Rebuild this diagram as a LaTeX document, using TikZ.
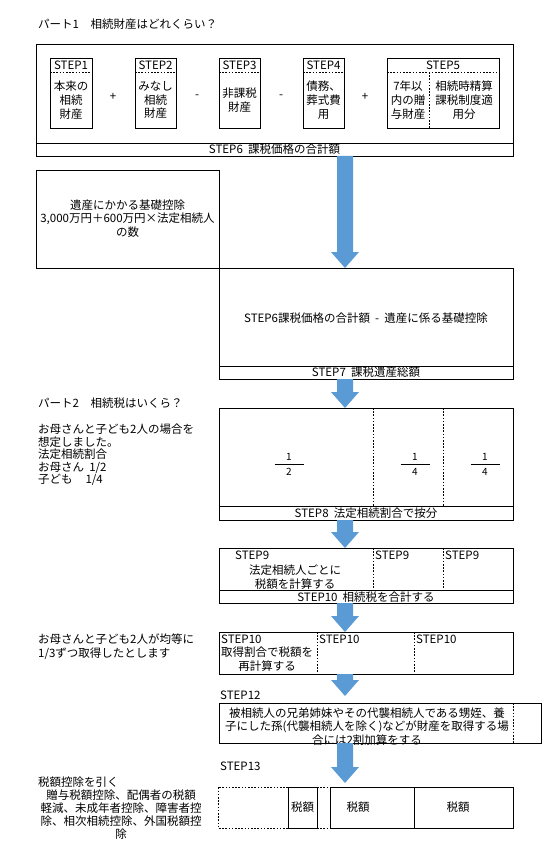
\documentclass[tikz,border=0pt]{standalone}
\usepackage{fontspec}
\setmainfont{Noto Sans CJK JP}
\definecolor{arrowblue}{RGB}{91,155,213}
\tikzset{
  box/.style={draw=black, line width=0.9pt},
  dots/.style={draw=black, line width=0.8pt, dash pattern=on 1.6pt off 1.6pt},
  txt/.style={inner sep=0pt, font=\fontsize{11.5}{13.8}\selectfont, align=center},
  ltxt/.style={txt, anchor=west, align=left},
  frac/.style={inner sep=0pt, font=\fontsize{10}{12}\selectfont},
}
\newcommand{\blockarrow}[3]{%
  \fill[arrowblue] (#1-8,#2) -- (#1+8,#2) -- (#1+8,#3-16) -- (#1+14,#3-16) -- (#1,#3)
    -- (#1-14,#3-16) -- (#1-8,#3-16) -- cycle;}
\begin{document}
\begin{tikzpicture}[x=1pt,y=-1pt]
\useasboundingbox (0,0) rectangle (551,853);
\fill[white] (0,0) rectangle (551,853);

% ---------- Part 1 ----------
\node[ltxt] (t1) at (38,24) {パート1　相続財産はどれくらい？};
\draw[box] (36,44) rectangle (513,156);
\draw[box] (36,143) -- (513,143);
\node[txt] (s6) at (274.5,149.5) {STEP6\ \ 課税価格の合計額};

% STEP1
\draw[box] (50,58) rectangle (92,128);
\draw[dots] (50,72) -- (92,72);
\node[txt] (l1) at (71,65) {STEP1};
\node[txt] (c1) at (71,100) {本来の\\相続\\財産};
% STEP2
\draw[box] (135,58) rectangle (176,128);
\draw[dots] (135,72) -- (176,72);
\node[txt] (l2) at (155.5,65) {STEP2};
\node[txt] (c2) at (155.5,100) {みなし\\相続\\財産};
% STEP3
\draw[box] (219,58) rectangle (260,128);
\draw[dots] (219,72) -- (260,72);
\node[txt] (l3) at (239.5,65) {STEP3};
\node[txt] (c3) at (239.5,100) {非課税\\財産};
% STEP4
\draw[box] (303,58) rectangle (344,128);
\draw[dots] (303,72) -- (344,72);
\node[txt] (l4) at (323.5,65) {STEP4};
\node[txt] (c4) at (323.5,100) {債務、\\葬式費\\用};
% STEP5
\draw[box] (387,58) rectangle (499,128);
\draw[dots] (387,72) -- (499,72);
\draw[dots] (429,72) -- (429,128);
\node[txt] (l5) at (443,65) {STEP5};
\node[txt] (c5a) at (408,100) {7年以\\内の贈\\与財産};
\node[txt] (c5b) at (464,100) {相続時精算\\課税制度適\\用分};
% operators
\node[txt] (o1) at (113,97) {+};
\node[txt] (o2) at (197,97) {-};
\node[txt] (o3) at (281,97) {-};
\node[txt] (o4) at (365,97) {+};

\blockarrow{345}{156}{268}

% basic deduction box
\draw[box] (36,170) rectangle (219,268);
\node[txt] (kiso) at (127.5,218.5) {遺産にかかる基礎控除\\3,000万円＋600万円×法定相続人\\の数};

% STEP7
\draw[box] (219,268) rectangle (513,379);
\draw[box] (219,366) -- (513,366);
\node[txt] (s7c) at (366,318) {STEP6課税価格の合計額\ \ -\ \ 遺産に係る基礎控除};
\node[txt] (s7) at (366,372.5) {STEP7\ \ 課税遺産総額};

\blockarrow{345}{379}{408}

% ---------- Part 2 ----------
\node[ltxt] (t2) at (38,403) {パート2　相続税はいくら？};
\node[ltxt, font=\fontsize{11.5}{12.4}\selectfont] (assume) at (38,455)
  {お母さんと子ども2人の場合を\\想定しました。\\法定相続割合\\お母さん\ \ 1/2\\子ども\ \ \ \ \ 1/4};

% STEP8
\draw[box] (219,408) rectangle (513,520);
\draw[box] (219,506) -- (513,506);
\draw[dots] (373,408) -- (373,506);
\draw[dots] (443,408) -- (443,506);
\node[frac] (f1n) at (289,457) {1};
\draw[line width=0.8pt] (274.5,464) -- (303.5,464);
\node[frac] (f1d) at (289,472) {2};
\node[frac] (f2n) at (415,457) {1};
\draw[line width=0.8pt] (400.5,464) -- (429.5,464);
\node[frac] (f2d) at (415,472) {4};
\node[frac] (f3n) at (485,457) {1};
\draw[line width=0.8pt] (470.5,464) -- (499.5,464);
\node[frac] (f3d) at (485,472) {4};
\node[txt] (s8) at (366,513) {STEP8\ \ 法定相続割合で按分};

\blockarrow{345}{520}{548}

% STEP9
\draw[box] (219,548) rectangle (513,603);
\draw[box] (219,590) -- (513,590);
\draw[dots] (373,548) -- (373,590);
\draw[dots] (443,548) -- (443,590);
\node[ltxt] (s9a) at (235,555.5) {STEP9};
\node[ltxt] (s9b) at (375,555.5) {STEP9};
\node[ltxt] (s9c) at (445,555.5) {STEP9};
\node[txt] (s9t) at (295,577) {法定相続人ごとに\\税額を計算する};
\node[txt] (s10sum) at (366,597) {STEP10\ \ 相続税を合計する};

\blockarrow{345}{603}{632}

% STEP10 row
\node[ltxt] (equal) at (38,646.5) {お母さんと子ども2人が均等に\\1/3ずつ取得したとします};
\draw[box] (219,632) rectangle (513,674);
\draw[dots] (317,632) -- (317,674);
\draw[dots] (414,632) -- (414,674);
\node[ltxt] (s10a) at (221,639.5) {STEP10};
\node[txt] (s10t) at (267,659.5) {取得割合で税額を\\再計算する};
\node[ltxt] (s10b) at (319,639.5) {STEP10};
\node[ltxt] (s10c) at (416,639.5) {STEP10};

\blockarrow{345}{674}{696}

% STEP12
\node[ltxt] (l12) at (220,695) {STEP12};
\draw[box] (219,703) rectangle (541,743);
\draw[dots] (513,703) -- (513,743);
\node[txt] (s12t) at (367,726.5) {被相続人の兄弟姉妹やその代襲相続人である甥姪、養\\子にした孫(代襲相続人を除く)などが財産を取得する場\\合には2割加算をする};

\blockarrow{345}{743}{783}

% STEP13
\node[ltxt] (l13) at (220,766) {STEP13};
\draw[dots] (288,787) -- (218,787) -- (218,828) -- (288,828);
\draw[box] (288,787) rectangle (317,828);
\draw[dots] (317,787) -- (330,787);
\draw[dots] (317,828) -- (330,828);
\draw[box] (330,787) rectangle (513,828);
\draw[box] (414,787) -- (414,828);
\node[txt] (z1) at (302.5,807.5) {税額};
\node[txt] (z2) at (358,807.5) {税額};
\node[txt] (z3) at (458,807.5) {税額};

% tax credit text
\node[ltxt] (credit) at (38,782) {税額控除を引く};
\node[txt, font=\fontsize{11.5}{13}\selectfont] (creditlist) at (121,815)
  {贈与税額控除、配偶者の税額\\軽減、未成年者控除、障害者控\\除、相次相続控除、外国税額控\\除};
\end{tikzpicture}
\end{document}
